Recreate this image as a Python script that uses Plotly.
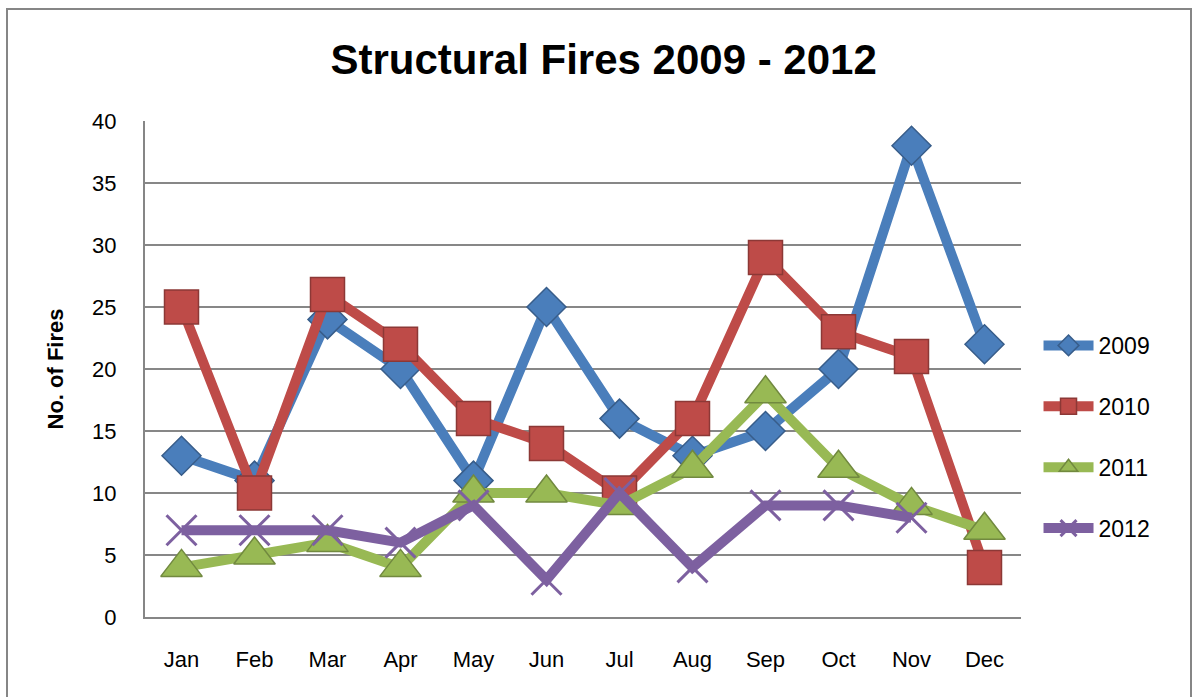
import plotly.graph_objects as go

months = ["Jan", "Feb", "Mar", "Apr", "May", "Jun", "Jul", "Aug", "Sep", "Oct", "Nov", "Dec"]
fires_2009 = [13, 11, 24, 20, 11, 25, 16, 13, 15, 20, 38, 22]
fires_2010 = [25, 10, 26, 22, 16, 14, 10, 16, 29, 23, 21, 4]
fires_2011 = [4, 5, 6, 4, 10, 10, 9, 12, 18, 12, 9, 7]
fires_2012 = [7, 7, 7, 6, 9, 3, 10, 4, 9, 9, 8, None]
y_ticks = [0, 5, 10, 15, 20, 25, 30, 35, 40]

FONT = "Liberation Sans Narrow, Arial Narrow, Liberation Sans, Arial, sans-serif"

series = [
    ("2009", fires_2009, "#4A7EBB", "#385D8A", "diamond", 30),
    ("2010", fires_2010, "#BE4B48", "#8C3836", "square", 34),
    ("2011", fires_2011, "#98B954", "#71893F", "triangle-up", 36),
    ("2012", fires_2012, "#7D60A0", "#7D60A0", "x-thin", 30),
]

fig = go.Figure()
for name, vals, col, edge, sym, size in series:
    fig.add_trace(go.Scatter(
        x=months, y=vals, name=name, mode="lines+markers", legendgroup=name,
        line=dict(color=col, width=10),
        marker=dict(symbol=sym, size=size, color=col,
                    line=dict(color=edge if sym != "x-thin" else col, width=1.5 if sym != "x-thin" else 3)),
        connectgaps=False,
    ))

fig.update_layout(
    width=1193, height=697,
    margin=dict(l=145, r=172, t=121, b=80),
    paper_bgcolor="white", plot_bgcolor="white",
    title=dict(text="<b>Structural Fires 2009 - 2012</b>", x=0.506, xanchor="center",
               y=0.915, yanchor="middle",
               font=dict(family=FONT, size=42, color="black")),
    font=dict(family=FONT, color="black"),
    showlegend=True,
    legend=dict(x=1.02, xanchor="left", y=0.363, yanchor="middle",
                font=dict(family=FONT, size=23, color="black"),
                traceorder="grouped", tracegroupgap=28, itemsizing="trace", itemwidth=50,
                bgcolor="rgba(0,0,0,0)"),
    xaxis=dict(type="category", categoryorder="array", categoryarray=months,
               showgrid=False, showline=True, linecolor="#868686", linewidth=2,
               ticks="", tickfont=dict(family=FONT, size=22), ticklabelstandoff=22,
               range=[-0.5, 11.5], fixedrange=True),
    yaxis=dict(range=[0, 40], tickvals=y_ticks, showgrid=True, gridcolor="#878787",
               gridwidth=1.5, showline=True, linecolor="#868686", linewidth=2,
               zeroline=False, ticks="", tickfont=dict(family=FONT, size=22),
               ticklabelstandoff=22,
               title=dict(text="<b>No. of Fires</b>", font=dict(family=FONT, size=22), standoff=22)),
)

# outer chart border
fig.add_shape(type="rect", xref="paper", yref="paper",
              x0=(7 - 145) / 876, x1=(1191 - 145) / 876,
              y0=(617 - 700) / 496, y1=(617 - 9) / 496,
              line=dict(color="#868686", width=2), fillcolor="rgba(0,0,0,0)", layer="below")

fig.write_html("out.html")
